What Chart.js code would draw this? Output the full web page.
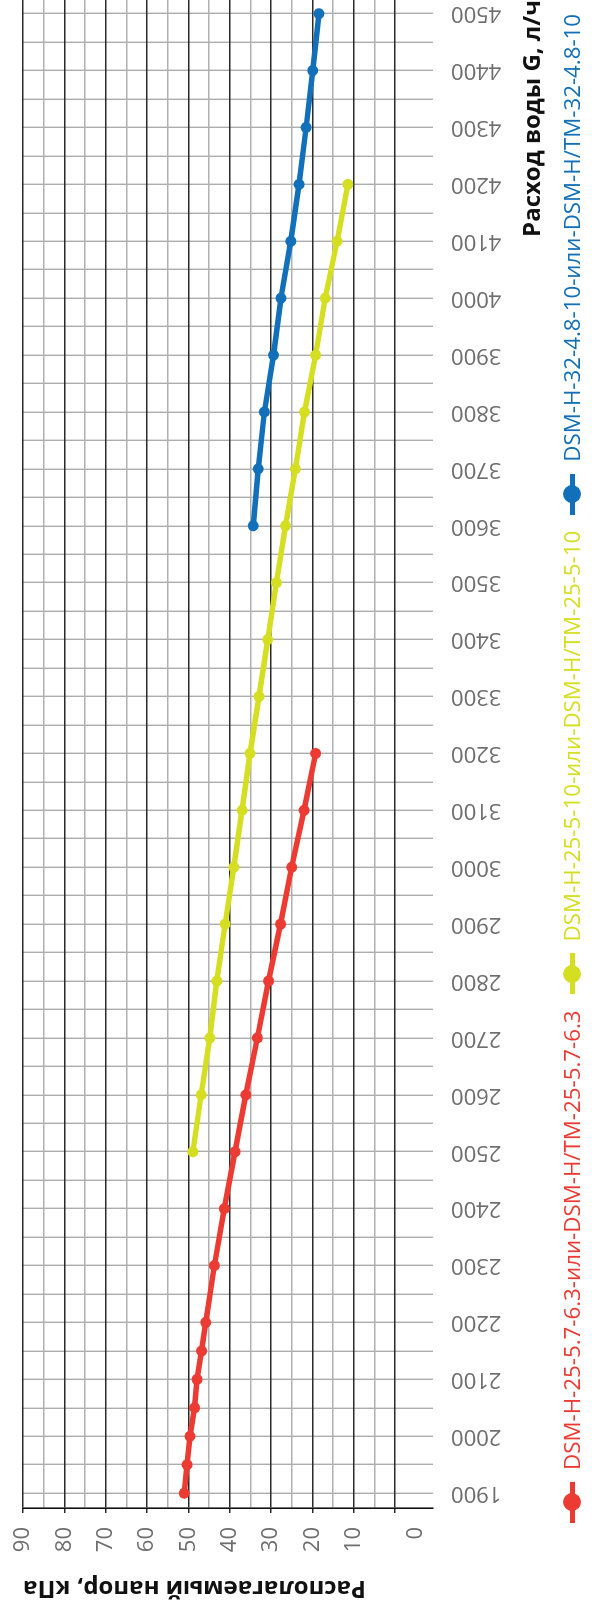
<!DOCTYPE html>
<html lang="ru">
<head>
    <meta charset="UTF-8">
    <title>Располагаемый напор</title>
    <script src="https://cdn.jsdelivr.net/npm/chart.js"></script>
    <style>
        html, body {
            margin: 0;
            padding: 0;
            width: 592px;
            height: 1604px;
            overflow: hidden;
            background: #fff;
        }

        /* the chart is drawn lying on its side, then turned a quarter to the left */
        .turned {
            position: absolute;
            left: 0;
            top: 0;
            width: 1604px;
            height: 592px;
            transform-origin: 0 0;
            transform: translate(0, 1604px) rotate(-90deg);
        }

        .turned canvas {
            position: absolute;
            left: 0;
            top: 0;
        }

        .legend {
            position: absolute;
            left: 81px;
            top: 559px;
            display: flex;
            align-items: center;
            gap: 16px;
            font-family: "Open Sans", sans-serif;
            font-size: 22.3px;
            line-height: 26px;
            white-space: nowrap;
        }

        .legend .item {
            display: flex;
            align-items: center;
        }

        .legend .mk {
            position: relative;
            display: inline-block;
            width: 41px;
            height: 18px;
            margin-right: 12px;
        }

        .legend .mk::before {
            content: "";
            position: absolute;
            left: 0;
            right: 0;
            top: 6.5px;
            height: 5px;
            background: var(--c);
        }

        .legend .mk::after {
            content: "";
            position: absolute;
            left: 11.5px;
            top: 0;
            width: 18px;
            height: 18px;
            border-radius: 50%;
            background: var(--c);
        }
    </style>
</head>
<body>
    <div class="turned">
        <canvas id="chart" width="1604" height="592"></canvas>
        <div class="legend" id="legend"></div>
    </div>

    <script>
        // water flow G, l/h  and  available head, kPa
        const redFlow = [1900, 1950, 2000, 2050, 2100, 2150, 2200, 2300, 2400, 2500, 2600, 2700, 2800, 2900, 3000, 3100, 3200];
        const redHead = [51.0, 50.3, 49.6, 48.5, 47.9, 46.8, 45.8, 43.7, 41.3, 38.7, 36.1, 33.3, 30.6, 27.7, 25.0, 22.0, 19.2];

        const yellowFlow = [2500, 2600, 2700, 2800, 2900, 3000, 3100, 3200, 3300, 3400, 3500, 3600, 3700, 3800, 3900, 4000, 4100, 4200];
        const yellowHead = [48.9, 46.9, 44.8, 43.1, 41.1, 39.0, 37.0, 35.1, 32.9, 30.8, 28.7, 26.5, 24.1, 21.9, 19.2, 16.9, 14.0, 11.4];

        const blueFlow = [3600, 3700, 3800, 3900, 4000, 4100, 4200, 4300, 4400, 4500];
        const blueHead = [34.3, 33.1, 31.6, 29.4, 27.6, 25.2, 23.2, 21.5, 19.9, 18.4];

        const seriesNames = [
            'DSM-H-25-5.7-6.3-или-DSM-H/TM-25-5.7-6.3',
            'DSM-H-25-5-10-или-DSM-H/TM-25-5-10',
            'DSM-H-32-4.8-10-или-DSM-H/TM-32-4.8-10'
        ];
        const seriesColors = ['#ec3b33', '#d6de22', '#1170b9'];

        // tick labels
        const flowTicks = [];   // grid every 50, label every 100
        for (let g = 1900; g <= 4500; g += 50) flowTicks.push(g);
        const headTicks = [-5, 0, 5, 10, 15, 20, 25, 30, 35, 40, 45, 50, 55, 60, 65, 70, 75, 80, 85, 90];

        const flowTitle = 'Расход воды G, л/ч';
        const headTitle = 'Располагаемый напор, кПа';

        function points(xs, ys) {
            return xs.map((x, i) => ({ x: x, y: ys[i] }));
        }

        function line(i, xs, ys) {
            return {
                label: seriesNames[i],
                data: points(xs, ys),
                borderColor: seriesColors[i],
                backgroundColor: seriesColors[i],
                pointBackgroundColor: seriesColors[i],
                pointBorderWidth: 0,
                pointRadius: 5.5,
                borderWidth: 5.5,
                tension: 0
            };
        }

        Chart.defaults.font.family = '"Open Sans", sans-serif';

        new Chart(document.getElementById('chart'), {
            type: 'line',
            data: {
                datasets: [
                    line(0, redFlow, redHead),
                    line(1, yellowFlow, yellowHead),
                    line(2, blueFlow, blueHead)
                ]
            },
            options: {
                responsive: false,
                animation: false,
                devicePixelRatio: 1,
                layout: { autoPadding: false, padding: { top: 23, bottom: 44, left: 0, right: 0 } },
                plugins: {
                    legend: { display: false },
                    tooltip: { enabled: false }
                },
                scales: {
                    x: {
                        type: 'linear',
                        position: 'bottom',
                        min: 1874,
                        max: 4524,
                        afterBuildTicks: s => { s.ticks = flowTicks.map(v => ({ value: v })); },
                        afterFit: s => { s.height = 115; s.paddingLeft = 0; s.paddingRight = 0; },
                        border: { display: false },
                        grid: {
                            color: '#adadad',
                            lineWidth: 1.4,
                            drawTicks: false
                        },
                        ticks: {
                            autoSkip: false,
                            minRotation: 90,
                            maxRotation: 90,
                            padding: 18,
                            color: '#6e6e6e',
                            font: { size: 22 },
                            callback: v => (v % 100 === 0 ? String(v) : '')
                        },
                        title: {
                            display: true,
                            text: flowTitle,
                            align: 'end',
                            color: '#111',
                            padding: { top: 0, bottom: 0 },
                            font: { size: 24, weight: 'bold' }
                        }
                    },
                    y: {
                        type: 'linear',
                        position: 'left',
                        min: -9.2,
                        max: 90,
                        afterBuildTicks: s => { s.ticks = headTicks.map(v => ({ value: v })); },
                        afterFit: s => { s.width = 96; s.paddingTop = 0; s.paddingBottom = 0; },
                        border: { display: true, color: '#111', width: 1.6 },
                        grid: {
                            color: c => {
                                const v = c.tick.value;
                                if (v < 0) return 'rgba(0,0,0,0)';
                                return v % 10 === 0 ? '#2a2a2a' : '#b0b0b0';
                            },
                            tickColor: c => (c.tick.value >= 0 && c.tick.value % 10 === 0 ? '#2a2a2a' : 'rgba(0,0,0,0)'),
                            lineWidth: c => (c.tick.value % 10 === 0 ? 1.5 : 1.4),
                            tickLength: 5
                        },
                        ticks: {
                            autoSkip: false,
                            padding: 14,
                            color: '#6e6e6e',
                            font: { size: 22 },
                            callback: v => {
                                if (v === -5) return '0';
                                return v > 0 && v % 10 === 0 ? String(v) : '';
                            }
                        },
                        title: {
                            display: true,
                            text: headTitle,
                            align: 'end',
                            color: '#111',
                            padding: { top: 2, bottom: 0 },
                            font: { size: 24, weight: 'bold' }
                        }
                    }
                }
            }
        });

        // legend as real text under the axis
        const legend = document.getElementById('legend');
        seriesNames.forEach((name, i) => {
            const item = document.createElement('span');
            item.className = 'item';
            item.style.color = seriesColors[i];
            item.style.setProperty('--c', seriesColors[i]);
            const mk = document.createElement('span');
            mk.className = 'mk';
            item.appendChild(mk);
            item.appendChild(document.createTextNode(name));
            legend.appendChild(item);
        });
    </script>
</body>
</html>
